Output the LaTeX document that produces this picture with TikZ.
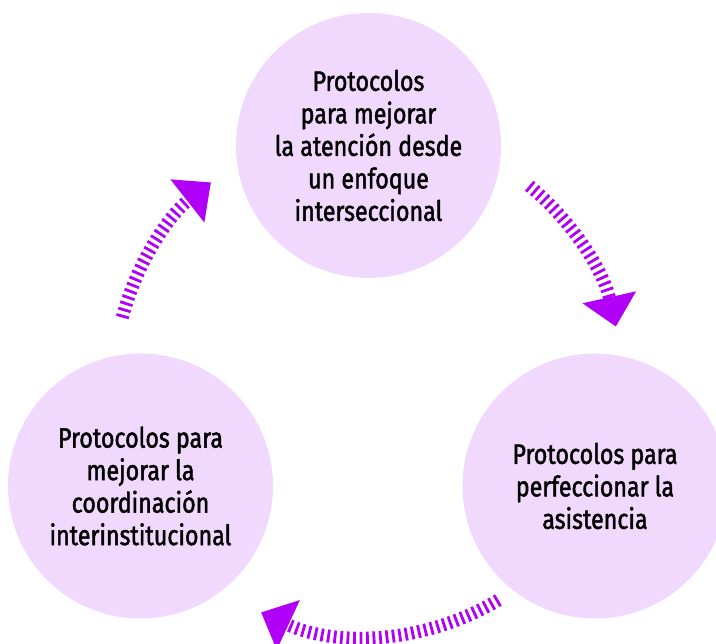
\documentclass[tikz,border=0pt]{standalone}
\usepackage{fontspec}
\setmainfont{Fira Sans}[FakeStretch=0.83, FakeBold=1.6]
\usetikzlibrary{arrows.meta}
\definecolor{lila}{RGB}{240,217,252}
\definecolor{violeta}{RGB}{176,0,248}

\begin{document}
\begin{tikzpicture}[x=1pt, y=1pt,
  etapa/.style={circle, fill=lila, minimum size=265pt, inner sep=0pt, align=center, font=\fontsize{28}{32.5}\selectfont},
  ciclo/.style={draw=violeta, line width=13pt, dash pattern=on 2.8pt off 3.7pt, -{Triangle[length=30pt, width=53pt]}},
  ]
  \useasboundingbox (0,0) rectangle (716,644);

  \node[etapa] (atencion) at (368.5,498.5) {Protocolos\\ para mejorar\\ la atención desde\\ un enfoque\\ interseccional};
  \node[etapa] (asistencia) at (595,158) {Protocolos para\\ perfeccionar la\\ asistencia};
  \node[etapa] (coordinacion) at (140.5,158) {Protocolos para\\ mejorar la\\ coordinación\\ interinstitucional};

  \coordinate (eje) at (368,262);
  \coordinate (desde atencion) at ([shift={(50.6:254)}]eje);
  \coordinate (desde asistencia) at ([shift={(-59.1:254)}]eje);
  \coordinate (desde coordinacion) at ([shift={(165.3:254)}]eje);

  \draw[ciclo] (desde atencion) arc[start angle=50.6, end angle=12.6, radius=254];
  \draw[ciclo] (desde asistencia) arc[start angle=-59.1, end angle=-114.9, radius=254];
  \draw[ciclo] (desde coordinacion) arc[start angle=165.3, end angle=128.2, radius=254];
\end{tikzpicture}
\end{document}
